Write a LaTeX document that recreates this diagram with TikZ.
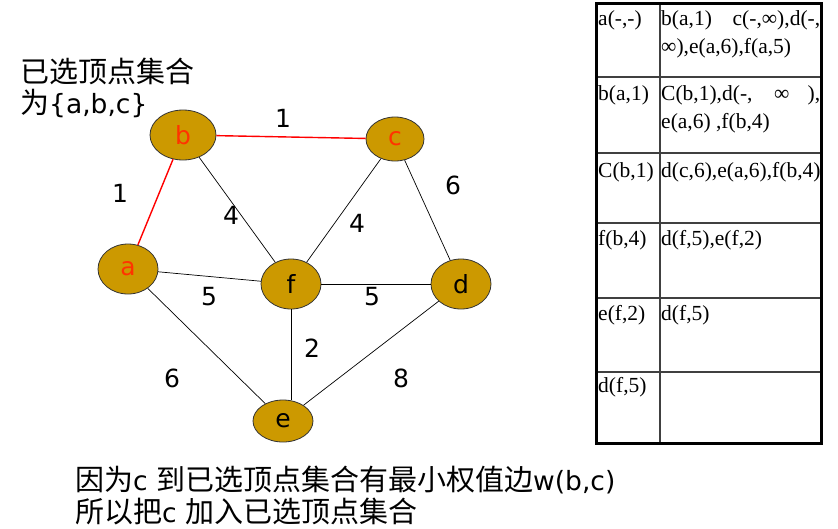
\documentclass[tikz,border=0pt]{standalone}
\usepackage{fontspec}
\setmainfont{DejaVu Sans}
\newfontfamily\cjk{Noto Sans CJK SC}
\newfontfamily\tabfont{Liberation Serif}
\usetikzlibrary{shapes.geometric}
\definecolor{vgold}{RGB}{204,153,0}
\definecolor{vred}{RGB}{255,51,0}
\newcommand{\hz}[1]{{\fontsize{29}{32}\selectfont\cjk #1}}

\begin{document}
\begin{tikzpicture}[x=1pt, y=-1pt,
    vertex/.style={ellipse, draw=black!80, line width=0.8pt, fill=vgold, minimum width=60pt, minimum height=50pt, inner sep=0pt, font=\fontsize{25}{30}\selectfont},
    picked/.style={text=vred},
    wlabel/.style={inner sep=0pt, font=\fontsize{25}{30}\selectfont},
    tree/.style={draw=red, line width=1.4pt},
    plain/.style={draw=black, line width=0.7pt},
    grid/.style={draw=black!75, line width=1.4pt},
    celltext/.style={anchor=base west, inner sep=0pt, font=\tabfont\fontsize{21.5}{28}\selectfont},
    note/.style={anchor=base west, inner sep=0pt, font=\fontsize{26.5}{32}\selectfont}]
  \useasboundingbox (0,0) rectangle (838,528);

  % vertices
  \node[vertex, picked, minimum width=66pt] (b) at (183,135) {b};
  \node[vertex, picked, minimum width=58pt, minimum height=44pt] (c) at (395,139) {c};
  \node[vertex, picked] (a) at (128,269) {a};
  \node[vertex] (f) at (291,284) {f};
  \node[vertex] (d) at (461,284) {d};
  \node[vertex, minimum height=42pt] (e) at (283,421) {e};

  % edges
  \draw[tree] (a) -- (b);
  \draw[tree] (b) -- (c);
  \draw[plain] (b) -- (f);
  \draw[plain] (c) -- (f);
  \draw[plain] (c) -- (d);
  \draw[plain] (a) -- (f);
  \draw[plain] (f) -- (d);
  \draw[plain] (a) -- (e);
  \draw[plain] (f) -- (f |- e.north);
  \draw[plain] (d) -- (e);

  % weights
  \node[wlabel] (wbc) at (283,118) {1};
  \node[wlabel] (wab) at (120,193) {1};
  \node[wlabel] (wbf) at (231,215) {4};
  \node[wlabel] (wcf) at (357,223) {4};
  \node[wlabel] (wcd) at (453,185) {6};
  \node[wlabel] (waf) at (209,297) {5};
  \node[wlabel] (wfd) at (372,297) {5};
  \node[wlabel] (wfe) at (312,348) {2};
  \node[wlabel] (wae) at (172,378) {6};
  \node[wlabel] (wde) at (401,378) {8};

  % notes
  \node[note] (sel1) at (20,82) {\hz{已选顶点集合}};
  \node[note] (sel2) at (20,113) {\hz{为}\{a,b,c\}};
  \node[note] (why1) at (75,490) {\hz{因为}c \hz{到已选顶点集合有最小权值边}w(b,c)};
  \node[note] (why2) at (75,522) {\hz{所以把}c \hz{加入已选顶点集合}};

  % table
  \draw[grid] (660,3) -- (660,443);
  \foreach \y in {77,153,223,298,372}
    \draw[grid] (596,\y) -- (821,\y);
  \draw[line width=3pt] (596,3) rectangle (821,443);

  \node[celltext] (s1) at (598,25) {a(-,-)};
  \node[celltext] (n1) at (661,25) {\makebox[159pt][s]{b(a,1) c(-,∞),d(-,}};
  \node[celltext] (n1b) at (661,53) {∞),e(a,6),f(a,5)};
  \node[celltext] (s2) at (598,100) {b(a,1)};
  \node[celltext] (n2) at (661,100) {\makebox[159pt][s]{C(b,1),d(-, ∞ ),}};
  \node[celltext] (n2b) at (661,128) {e(a,6) ,f(b,4)};
  \node[celltext] (s3) at (598,177) {C(b,1)};
  \node[celltext] (n3) at (661,177) {d(c,6),e(a,6),f(b,4)};
  \node[celltext] (s4) at (598,245) {f(b,4)};
  \node[celltext] (n4) at (661,245) {d(f,5),e(f,2)};
  \node[celltext] (s5) at (598,320) {e(f,2)};
  \node[celltext] (n5) at (661,320) {d(f,5)};
  \node[celltext] (s6) at (598,392) {d(f,5)};
\end{tikzpicture}
\end{document}
